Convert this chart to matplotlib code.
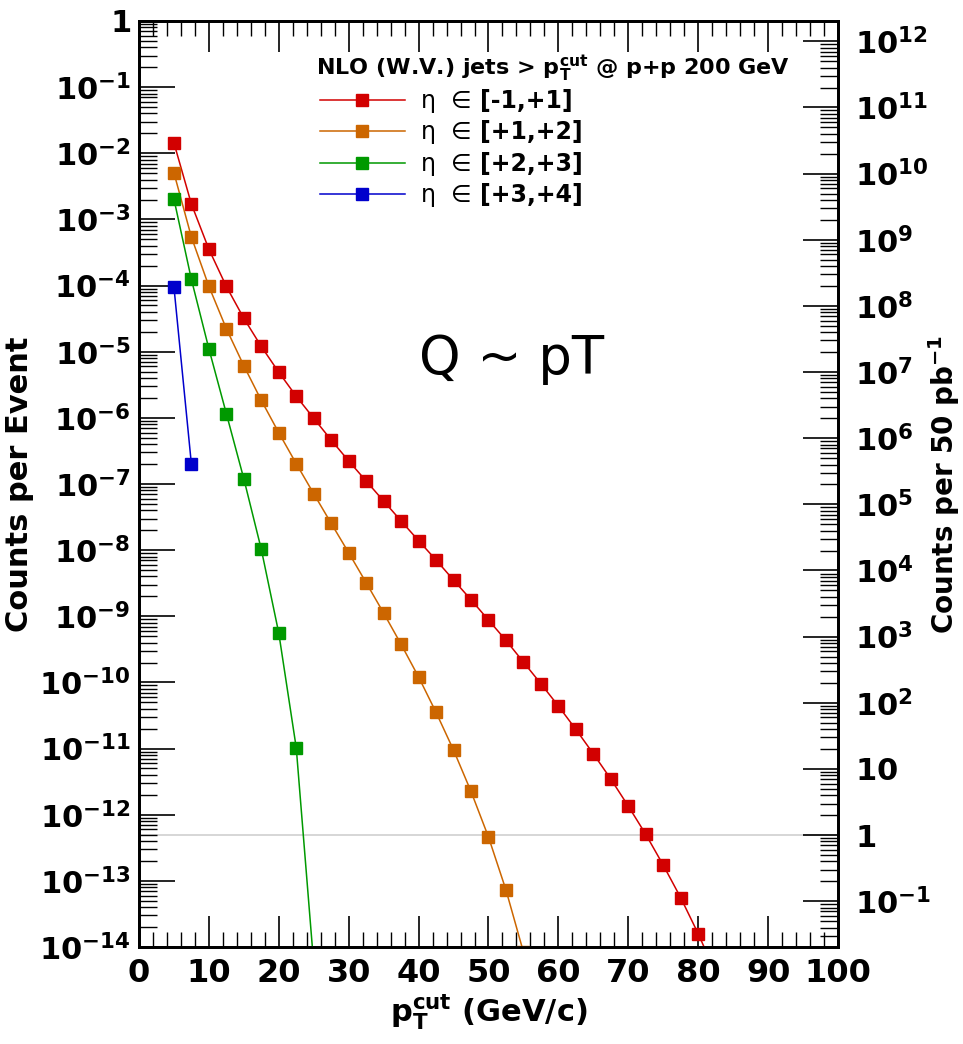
import numpy as np
import matplotlib.pyplot as plt
from matplotlib.ticker import LogLocator, FuncFormatter, MultipleLocator, NullFormatter

plt.rcParams['font.family'] = 'DejaVu Sans'
plt.rcParams['mathtext.fontset'] = 'dejavusans'

# pT cut values (GeV/c) and counts per event for each eta bin
pt_eta1 = [5, 7.5, 10, 12.5, 15, 17.5, 20, 22.5, 25, 27.5, 30, 32.5, 35, 37.5, 40, 42.5,
           45, 47.5, 50, 52.5, 55, 57.5, 60, 62.5, 65, 67.5, 70, 72.5, 75, 77.5, 80, 82.5]
cnt_eta1 = [1.44e-2, 1.71e-3, 3.55e-4, 9.7e-5, 3.2e-5, 1.2e-5, 4.9e-6, 2.12e-6, 9.85e-7,
            4.62e-7, 2.23e-7, 1.11e-7, 5.53e-8, 2.76e-8, 1.39e-8, 7.1e-9, 3.53e-9, 1.78e-9,
            8.77e-10, 4.33e-10, 2.03e-10, 9.55e-11, 4.4e-11, 1.95e-11, 8.35e-12, 3.46e-12,
            1.35e-12, 5.05e-13, 1.73e-13, 5.56e-14, 1.59e-14, 4.0e-15]

pt_eta2 = [5, 7.5, 10, 12.5, 15, 17.5, 20, 22.5, 25, 27.5, 30, 32.5, 35, 37.5, 40, 42.5,
           45, 47.5, 50, 52.5, 55]
cnt_eta2 = [5.08e-3, 5.42e-4, 9.75e-5, 2.23e-5, 6.14e-6, 1.84e-6, 5.96e-7, 2.03e-7, 7.13e-8,
            2.54e-8, 9.14e-9, 3.22e-9, 1.12e-9, 3.77e-10, 1.21e-10, 3.53e-11, 9.5e-12,
            2.25e-12, 4.6e-13, 7.3e-14, 8.4e-15]

pt_eta3 = [5, 7.5, 10, 12.5, 15, 17.5, 20, 22.5, 25]
cnt_eta3 = [2.04e-3, 1.24e-4, 1.11e-5, 1.16e-6, 1.2e-7, 1.03e-8, 5.58e-10, 1.03e-11, 5.5e-15]

pt_eta4 = [5, 7.5]
cnt_eta4 = [9.6e-5, 2.0e-7]

eta_ranges = ['[-1,+1]', '[+1,+2]', '[+2,+3]', '[+3,+4]']
colors = ['#d20000', '#cc6600', '#009900', '#0000cc']

# events -> counts in 50 pb^-1 (1 count line)
lumi_factor = 2.03e12
one_count = 1.0 / lumi_factor


def left_fmt(v, pos):
    e = int(round(np.log10(v)))
    if e == 0:
        return r'$\mathbf{1}$'
    return r'$\mathbf{10^{%d}}$' % e


def right_fmt(v, pos):
    e = int(round(np.log10(v)))
    if e == 0:
        return r'$\mathbf{1}$'
    if e == 1:
        return r'$\mathbf{10}$'
    return r'$\mathbf{10^{%d}}$' % e


fig = plt.figure(figsize=(9.63, 10.44), dpi=100)
ax = fig.add_axes([0.1443, 0.0929, 0.7259, 0.887])

ax.axhline(one_count, color='#d0d0d0', lw=1.2, zorder=1)

data = [(pt_eta1, cnt_eta1), (pt_eta2, cnt_eta2), (pt_eta3, cnt_eta3), (pt_eta4, cnt_eta4)]
for (x, y), c in zip(data, colors):
    ax.plot(x, y, color=c, lw=1.1, marker='s', ms=8, mec=c, mfc=c, label='η  ∈', zorder=3)

ax.set_yscale('log')
ax.set_xlim(0, 100)
ax.set_ylim(1e-14, 1)

ax.xaxis.set_major_locator(MultipleLocator(10))
ax.xaxis.set_minor_locator(MultipleLocator(2))
ax.yaxis.set_major_locator(LogLocator(base=10, numticks=20))
ax.yaxis.set_minor_locator(LogLocator(base=10, subs=np.arange(2, 10), numticks=20))
ax.yaxis.set_major_formatter(FuncFormatter(left_fmt))
ax.yaxis.set_minor_formatter(NullFormatter())

ax.tick_params(axis='x', which='both', direction='in', top=True, bottom=True, labelsize=23)
ax.tick_params(axis='x', which='major', length=22, width=1.2, pad=8)
ax.tick_params(axis='x', which='minor', length=11, width=1.0)
ax.tick_params(axis='y', which='both', direction='in', left=True, right=False, labelsize=22)
ax.tick_params(axis='y', which='major', length=26, width=1.2, pad=6)
ax.tick_params(axis='y', which='minor', length=13, width=1.0)
for lab in ax.get_xticklabels():
    lab.set_fontweight('bold')
for s in ax.spines.values():
    s.set_linewidth(2)

ax.set_xlabel(r'$\mathbf{p_{T}^{cut}}$ (GeV/c)', fontsize=22, fontweight='bold', labelpad=2)
ax.set_ylabel('Counts per Event', fontsize=22, fontweight='bold')
ax.yaxis.set_label_coords(-0.15, 0.5)

ax2 = ax.twinx()
ax2.set_yscale('log')
ax2.set_ylim(1e-14 * lumi_factor, 1 * lumi_factor)
ax2.yaxis.set_major_locator(LogLocator(base=10, numticks=20))
ax2.yaxis.set_minor_locator(LogLocator(base=10, subs=np.arange(2, 10), numticks=20))
ax2.yaxis.set_major_formatter(FuncFormatter(right_fmt))
ax2.yaxis.set_minor_formatter(NullFormatter())
ax2.tick_params(axis='y', which='both', direction='in', labelsize=22)
ax2.tick_params(axis='y', which='major', length=25, width=1.2, pad=12)
ax2.tick_params(axis='y', which='minor', length=13, width=1.0)
ax2.set_ylabel(r'Counts per 50 pb$\mathbf{^{-1}}$', fontsize=20, fontweight='bold')
ax2.yaxis.set_label_coords(1.126, 0.5)
for s in ax2.spines.values():
    s.set_linewidth(2)

ax.text(0.253, 0.949, r'NLO (W.V.) jets > $\mathbf{p_{T}^{cut}}$ @ p+p 200 GeV',
        transform=ax.transAxes, fontsize=16, fontweight='bold', ha='left', va='center')

leg = ax.legend(loc='upper left', bbox_to_anchor=(0.245, 0.937), frameon=False, fontsize=17,
                handlelength=3.6, handletextpad=0.7, labelspacing=0.32, borderaxespad=0)

ax.text(0.4, 0.635, 'Q ~ pT', transform=ax.transAxes, fontsize=38, ha='left', va='center')

# bold eta ranges right after the regular "η ∈" legend labels
fig.canvas.draw()
W, H = fig.canvas.get_width_height()
for t, rng in zip(leg.get_texts(), eta_ranges):
    bb = t.get_window_extent()
    fig.text((bb.x1 + 8) / W, (bb.y0 + bb.y1) / 2 / H, rng, fontsize=17,
             fontweight='bold', ha='left', va='center')

fig.savefig('out.png', dpi=100)
